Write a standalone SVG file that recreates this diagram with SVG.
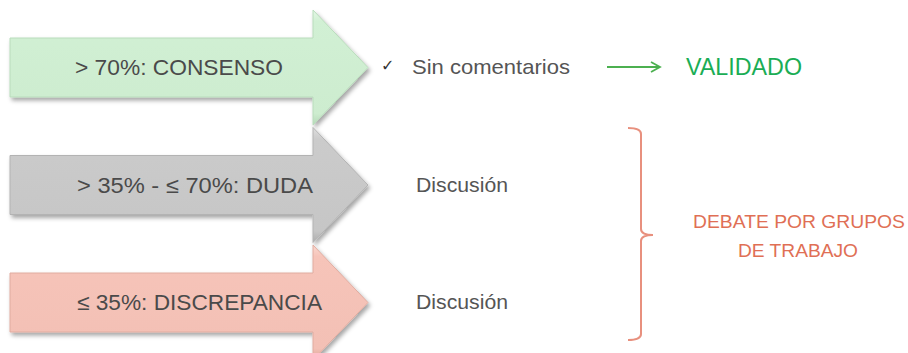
<svg xmlns="http://www.w3.org/2000/svg" width="908" height="353" viewBox="0 0 908 353">
<style>
.lbl{font-family:"Liberation Sans",Arial,sans-serif;font-size:22px;fill:#4a4a4a}
.side{font-family:"Liberation Sans",Arial,sans-serif;font-size:21px;fill:#555555}
.deb{font-family:"Liberation Sans",Arial,sans-serif;font-size:19px;fill:#e06f55}
.arrow{stroke-width:1}
</style>
<defs>
<filter id="sh" x="-10%" y="-10%" width="130%" height="130%">
<feDropShadow dx="2" dy="3" stdDeviation="2" flood-color="#000" flood-opacity="0.35"/>
</filter>
<linearGradient id="gGreen" x1="0" y1="0" x2="0" y2="1">
<stop offset="0" stop-color="#e4f7e6"/><stop offset="0.1" stop-color="#d1f0d4"/><stop offset="0.9" stop-color="#cdeccf"/><stop offset="1" stop-color="#b5d8b8"/>
</linearGradient>
<linearGradient id="gGray" x1="0" y1="0" x2="0" y2="1">
<stop offset="0" stop-color="#dedede"/><stop offset="0.1" stop-color="#cbcbcb"/><stop offset="0.9" stop-color="#c6c6c6"/><stop offset="1" stop-color="#acacac"/>
</linearGradient>
<linearGradient id="gPink" x1="0" y1="0" x2="0" y2="1">
<stop offset="0" stop-color="#fad8d0"/><stop offset="0.1" stop-color="#f6c4b9"/><stop offset="0.9" stop-color="#f3c0b5"/><stop offset="1" stop-color="#dca598"/>
</linearGradient>
<marker id="ah" markerWidth="12" markerHeight="12" refX="10" refY="6" orient="auto" markerUnits="userSpaceOnUse">
<path d="M1,1 L10,6 L1,11" fill="none" stroke="#4cb050" stroke-width="1.8"/>
</marker>
</defs>

<g id="arrow-consenso">
<path class="arrow" d="M10,38 L313,38 L313,10 L368,67.5 L313,125 L313,97 L10,97 Z" fill="url(#gGreen)" stroke="#b9dcbc" filter="url(#sh)"/>
<text class="lbl" x="75" y="75" textLength="208" lengthAdjust="spacingAndGlyphs">&gt; 70%: CONSENSO</text>
</g>

<g id="arrow-duda">
<path class="arrow" d="M10,155.5 L313,155.5 L313,127.5 L368,185 L313,242.5 L313,214.5 L10,214.5 Z" fill="url(#gGray)" stroke="#b3b3b3" filter="url(#sh)"/>
<text class="lbl" x="77" y="192.5" textLength="236" lengthAdjust="spacingAndGlyphs">&gt; 35% - ≤ 70%: DUDA</text>
</g>

<g id="arrow-discrepancia">
<path class="arrow" d="M10,273 L313,273 L313,245 L368,302.5 L313,360 L313,332 L10,332 Z" fill="url(#gPink)" stroke="#e0aca0" filter="url(#sh)"/>
<text class="lbl" x="77" y="310" textLength="245" lengthAdjust="spacingAndGlyphs">≤ 35%: DISCREPANCIA</text>
</g>

<g id="sin-comentarios">
<text x="381" y="71" style="font-family:'DejaVu Sans',sans-serif;font-size:16px;fill:#333333">✓</text>
<text class="side" x="412" y="74" textLength="158" lengthAdjust="spacingAndGlyphs">Sin comentarios</text>
</g>

<g id="validado">
<text x="686" y="75" style="font-family:'Liberation Sans',Arial,sans-serif;font-size:23px;fill:#1aad55" textLength="116" lengthAdjust="spacingAndGlyphs">VALIDADO</text>
</g>

<g id="discusion-1">
<text class="side" x="416" y="192" textLength="92" lengthAdjust="spacingAndGlyphs">Discusión</text>
</g>
<g id="discusion-2">
<text class="side" x="416" y="309" textLength="92" lengthAdjust="spacingAndGlyphs">Discusión</text>
</g>

<g id="debate">
<text class="deb" x="799" y="228" text-anchor="middle" textLength="212" lengthAdjust="spacingAndGlyphs">DEBATE POR GRUPOS</text>
<text class="deb" x="798" y="257" text-anchor="middle" textLength="120" lengthAdjust="spacingAndGlyphs">DE TRABAJO</text>
</g>

<g id="connectors">
<line x1="607" y1="67" x2="660" y2="67" stroke="#4cb050" stroke-width="1.8" marker-end="url(#ah)"/>
<path d="M628,128 Q641,128 641,134 L641,229 Q641,235 653,235 Q641,235 641,241 L641,334 Q641,340 628,340" fill="none" stroke="#e8907e" stroke-width="2"/>
</g>
</svg>
